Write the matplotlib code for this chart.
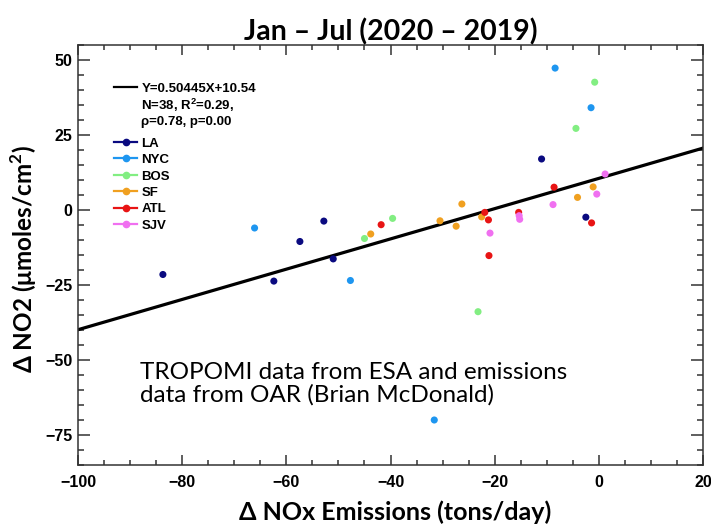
import matplotlib
matplotlib.use("Agg")
import matplotlib.pyplot as plt
from matplotlib.lines import Line2D
from matplotlib.ticker import MultipleLocator

# city changes (x: delta NOx emissions, y: delta NO2)
la_x = [-83.7, -62.4, -57.4, -52.8, -51.0, -11.0, -2.5]
la_y = [-21.5, -23.7, -10.5, -3.7, -16.3, 17.0, -2.4]
nyc_x = [-66.1, -47.7, -31.6, -8.4, -1.5]
nyc_y = [-6.0, -23.5, -70.0, 47.3, 34.1]
bos_x = [-45.0, -39.6, -23.2, -4.4, -0.8]
bos_y = [-9.5, -2.8, -33.9, 27.2, 42.6]
sf_x = [-43.8, -30.5, -27.4, -26.3, -22.5, -4.1, -1.1]
sf_y = [-8.0, -3.6, -5.4, 2.0, -2.3, 4.2, 7.7]
atl_x = [-41.8, -21.9, -21.2, -21.1, -15.4, -8.6, -1.4]
atl_y = [-4.9, -0.8, -3.3, -15.2, -0.8, 7.6, -4.3]
sjv_x = [-20.9, -15.3, -15.2, -8.8, -0.4, 1.2]
sjv_y = [-7.7, -1.9, -3.1, 1.8, 5.3, 12.0]

cities = ["LA", "NYC", "BOS", "SF", "ATL", "SJV"]
xs = [la_x, nyc_x, bos_x, sf_x, atl_x, sjv_x]
ys = [la_y, nyc_y, bos_y, sf_y, atl_y, sjv_y]
colors = ["#0a0a80", "#1e96f0", "#82ee82", "#f0a020", "#e81414", "#f070f0"]

slope = 0.50445
icpt = 10.54
fit_x = [-100, 20]
stats = ["Y=0.50445X+10.54", "N=38, R$^\\mathregular{2}$=0.29,", "ρ=0.78, p=0.00"]

fig = plt.figure(figsize=(7.11, 5.25), dpi=100)
ax = fig.add_axes([0.1097, 0.1143, 0.8791, 0.80])

ax.plot(fit_x, [slope * v + icpt for v in fit_x], color="black", lw=2.3, zorder=2)

for name, x, y, c in zip(cities, xs, ys, colors):
    ax.scatter(x, y, s=26, color=c, edgecolors="none", zorder=3)

ax.set_xlim(-100, 20)
ax.set_ylim(-85, 55)
ax.xaxis.set_major_locator(MultipleLocator(20))
ax.xaxis.set_minor_locator(MultipleLocator(5))
ax.yaxis.set_major_locator(MultipleLocator(25))
ax.yaxis.set_minor_locator(MultipleLocator(5))
ax.tick_params(which="both", direction="in", top=True, right=True, color="#333333", width=1.1)
ax.tick_params(which="major", length=7)
ax.tick_params(which="minor", length=3.5)
ax.tick_params(axis="y", which="major", length=8.5)
ax.tick_params(axis="y", which="minor", length=4.5)
for sp in ax.spines.values():
    sp.set_color("#333333")
    sp.set_linewidth(1.1)
for lab in ax.get_xticklabels() + ax.get_yticklabels():
    lab.set_fontfamily("Liberation Sans")
    lab.set_fontweight("bold")
    lab.set_fontsize(11.5)
ax.tick_params(axis="x", pad=7)
ax.tick_params(axis="y", pad=4)

ax.set_xlabel("Δ NOx Emissions (tons/day)", fontfamily="Lato", fontweight="bold", fontsize=18)
ax.xaxis.set_label_coords(0.507, -0.085)
ax.set_ylabel("Δ NO2 (μmoles/cm$^\\mathregular{2}$)", fontfamily="Lato", fontweight="bold", fontsize=17.5)
ax.yaxis.set_label_coords(-0.062, 0.49)
ax.set_title("Jan – Jul (2020 – 2019)", fontfamily="Lato", fontweight="bold", fontsize=20.5, pad=3)

leg_font = {"family": "Liberation Sans", "weight": "bold", "size": 9.5}
fit_handles = [Line2D([], [], color="black", lw=1.6),
               Line2D([], [], color="none"),
               Line2D([], [], color="none")]
leg1 = ax.legend(fit_handles, stats, loc="upper left", bbox_to_anchor=(0.058, 0.91), frameon=False,
                 handlelength=1.75, handletextpad=0.3, labelspacing=0.12, borderaxespad=0, borderpad=0,
                 prop=leg_font)
ax.add_artist(leg1)

city_handles = [Line2D([], [], color=c, lw=1.6, marker="o", markersize=4.5) for c in colors]
ax.legend(city_handles, cities, loc="upper left", bbox_to_anchor=(0.058, 0.78), frameon=False,
          handlelength=1.75, handletextpad=0.3, labelspacing=0.32, borderaxespad=0, borderpad=0,
          prop=leg_font)

ax.text(0.782, 0.193, "TROPOMI data from ESA and emissions\ndata from OAR (Brian McDonald)",
        transform=ax.transAxes, fontfamily="Lato", fontsize=17.5, linespacing=1.1,
        ha="right", va="center", multialignment="left")

fig.savefig("out.png", dpi=100)
